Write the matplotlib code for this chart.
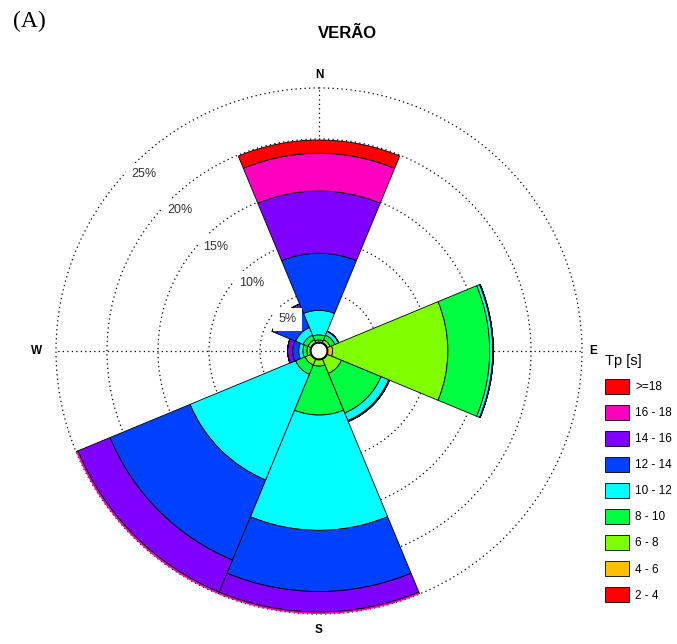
import numpy as np
import matplotlib
matplotlib.use("Agg")
import matplotlib.pyplot as plt

# wave direction sectors (compass degrees) and Tp classes
directions = ["N", "NE", "E", "SE", "S", "SW", "W", "NW"]
dir_deg = [0, 45, 90, 135, 180, 225, 270, 315]
tp_labels = ["2 - 4", "4 - 6", "6 - 8", "8 - 10", "10 - 12",
             "12 - 14", "14 - 16", "16 - 18", ">=18"]

# frequency (%) per direction for each Tp class
tp_2_4 = [0.05, 0.05, 0.10, 0.05, 0.05, 0.05, 0.05, 0.05]
tp_4_6 = [0.05, 0.05, 0.45, 0.05, 0.05, 0.05, 0.05, 0.05]
tp_6_8 = [0.20, 0.30, 11.3, 1.50, 0.60, 0.60, 0.30, 0.30]
tp_8_10 = [0.50, 0.50, 4.10, 4.20, 4.80, 1.00, 0.40, 0.50]
tp_10_12 = [2.40, 0.40, 0.30, 0.80, 11.3, 11.2, 0.40, 0.80]
tp_12_14 = [5.60, 0.00, 0.05, 0.10, 6.00, 8.50, 0.60, 2.00]
tp_14_16 = [6.10, 0.00, 0.00, 0.00, 2.00, 3.40, 0.50, 0.50]
tp_16_18 = [3.70, 0.00, 0.00, 0.00, 0.30, 0.40, 0.00, 0.00]
tp_18 = [1.30, 0.00, 0.00, 0.00, 0.00, 0.05, 0.00, 0.00]

tp_classes = [tp_2_4, tp_4_6, tp_6_8, tp_8_10, tp_10_12,
              tp_12_14, tp_14_16, tp_16_18, tp_18]
colors = ["#FF0000", "#FFBF00", "#80FF00", "#00FF40", "#00FFFF",
          "#0040FF", "#8000FF", "#FF00BF", "#FF0000"]
rings = [5, 10, 15, 20, 25]

plt.rcParams["font.family"] = ["Liberation Sans", "DejaVu Sans"]

fig = plt.figure(figsize=(6.77, 6.44), dpi=100)
ax = fig.add_axes([0.0827, 0.0466, 0.777, 0.8168], projection="polar")
ax.set_theta_zero_location("N")
ax.set_theta_direction(-1)
ax.set_rorigin(-0.784)
ax.set_ylim(0, 25)

theta = np.deg2rad(dir_deg)
width = np.deg2rad(45)
bottom = np.zeros(len(directions))
for vals, col, lab in zip(tp_classes, colors, tp_labels):
    ax.bar(theta, vals, width=width, bottom=bottom, color=col,
           edgecolor="black", linewidth=0.6, label=lab, zorder=2)
    bottom = bottom + np.array(vals)

# dotted rings and the four main axes
ax.set_rgrids(rings, labels=[])
ax.set_thetagrids([0, 90, 180, 270], labels=[])
ax.grid(True, color="black", linestyle=(0, (1, 2.6)), linewidth=0.9)
for gl in ax.yaxis.get_gridlines():
    gl.set_clip_on(False)
ax.set_axisbelow(True)
ax.spines["polar"].set_visible(False)
ax.tick_params(length=0)

# centre hole
circ = np.linspace(0, 2 * np.pi, 200)
ax.plot(circ, np.zeros_like(circ), color="black", linewidth=1.5, zorder=5)

for r in rings:
    ax.text(np.deg2rad(315.3), r - 1.4, f"{r}%", ha="center", va="center",
            fontsize=9, color="#333333", zorder=6,
            bbox=dict(facecolor="white", edgecolor="none", pad=4.0))

for name, deg, rr in [("N", 0, 26.3), ("E", 90, 26.1), ("S", 180, 26.6), ("W", 270, 26.9)]:
    ax.text(np.deg2rad(deg), rr, name, ha="center", va="center",
            fontsize=8.5, fontweight="bold")

fig.text(0.513, 0.948, "VERÃO", ha="center", va="center",
         fontsize=12, fontweight="bold")
fig.text(0.019, 0.967, "(A)", ha="left", va="center", fontsize=17,
         family=["Liberation Serif", "DejaVu Serif"])

handles, labels = ax.get_legend_handles_labels()
fig.legend(handles[::-1], labels[::-1], loc="upper left",
           bbox_to_anchor=(605 / 677, 1 - 354 / 644), frameon=False,
           fontsize=8.5, title="Tp [s]", title_fontsize=10.5,
           alignment="left", handlelength=2.05, handleheight=1.55,
           labelspacing=0.95, handletextpad=0.5, borderpad=0,
           borderaxespad=0)

fig.savefig("out.png", dpi=100)
